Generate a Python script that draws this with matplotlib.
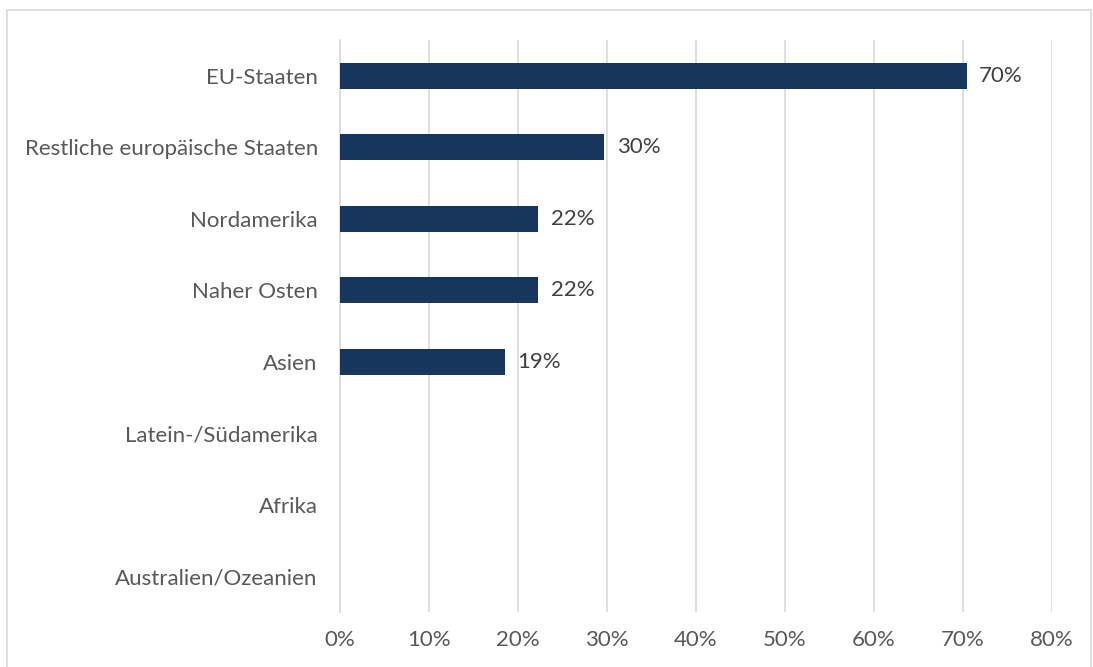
import matplotlib.pyplot as plt
from matplotlib.patches import Rectangle
from matplotlib.ticker import PercentFormatter

regions = ["EU-Staaten", "Restliche europäische Staaten", "Nordamerika",
           "Naher Osten", "Asien", "Latein-/Südamerika", "Afrika",
           "Australien/Ozeanien"]
shares = [70.4, 29.7, 22.3, 22.3, 18.5, 0, 0, 0]
labels = ["70%", "30%", "22%", "22%", "19%", "", "", ""]

plt.rcParams['font.family'] = ['Lato', 'DejaVu Sans']

fig = plt.figure(figsize=(10.93, 6.67), dpi=100)
ax = fig.add_axes([340 / 1093, 1 - 612 / 667, (1052 - 340) / 1093, 572 / 667])

y = list(range(len(regions)))
bars = ax.barh(y, shares, height=0.36, color="#17365D", zorder=3)
for b, lab in zip(bars, labels):
    if lab:
        ax.annotate(lab, (b.get_width(), b.get_y() + b.get_height() / 2),
                    xytext=(9, 0), textcoords="offset points",
                    va="center", ha="left", fontsize=16, color="#404040")

ax.set_xlim(0, 80)
ax.set_ylim(len(regions) - 0.5, -0.5)
ax.set_xticks(range(0, 81, 10))
ax.xaxis.set_major_formatter(PercentFormatter(decimals=0))
ax.set_yticks(y)
ax.set_yticklabels(regions)
ax.grid(axis="x", color="#d9d9d9", linewidth=1.2, zorder=0)
for s in ["top", "right", "bottom"]:
    ax.spines[s].set_visible(False)
ax.spines["left"].set_color("#d9d9d9")
ax.spines["left"].set_linewidth(1.2)
ax.tick_params(axis="both", length=0, labelsize=16, labelcolor="#595959")
ax.tick_params(axis="x", pad=13)
ax.tick_params(axis="y", pad=16)

# grauer Rahmen um die ganze Grafik
fig.patches.append(Rectangle((7 / 1093, -0.05), (1091 - 7) / 1093, 1.05 - 10 / 667,
                             transform=fig.transFigure, fill=False,
                             edgecolor="#d9d9d9", linewidth=1.2))

fig.savefig("out.png", dpi=100)
